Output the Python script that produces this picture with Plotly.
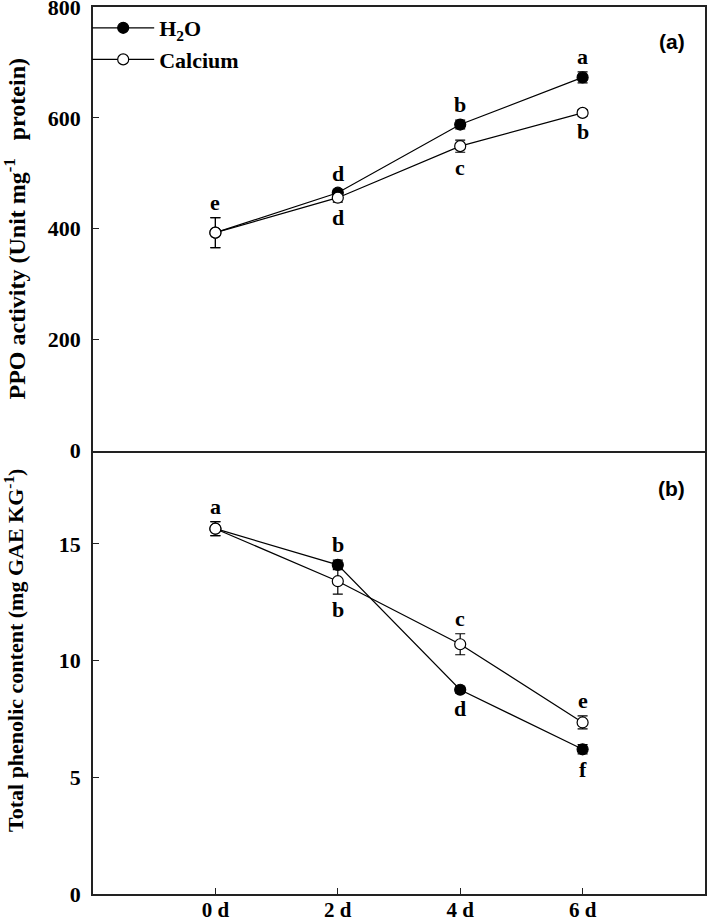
import plotly.graph_objects as go
from plotly.subplots import make_subplots

days = [0, 2, 4, 6]
day_labels = ["0 d", "2 d", "4 d", "6 d"]

# Panel (a): PPO activity
ppo_h2o = [393, 465, 588, 673]
ppo_h2o_err = [27, 6, 8, 10]
ppo_ca = [393, 456, 549, 609]
ppo_ca_err = [27, 8, 11, 6]
ppo_h2o_letters = ["e", "d", "b", "a"]
ppo_ca_letters = ["", "d", "c", "b"]

# Panel (b): total phenolic content
tpc_h2o = [15.65, 14.1, 8.75, 6.2]
tpc_h2o_err = [0.3, 0.2, 0.15, 0.2]
tpc_ca = [15.65, 13.4, 10.7, 7.35]
tpc_ca_err = [0.3, 0.55, 0.45, 0.28]
tpc_h2o_letters = ["a", "b", "d", "f"]
tpc_ca_letters = ["", "b", "c", "e"]
# position of letter: +1 above, -1 below
tpc_h2o_side = [1, 1, -1, -1]
tpc_ca_side = [1, -1, 1, 1]
ppo_h2o_side = [1, 1, 1, 1]
ppo_ca_side = [1, -1, -1, -1]

SERIF = "Liberation Serif, Times New Roman, serif"
SANS = "Liberation Sans, Arial, sans-serif"
LINE = "#222"

fig = make_subplots(rows=2, cols=1, shared_xaxes=True, vertical_spacing=0)

def add_series(row, y, err, name, filled, showlegend):
    fig.add_trace(go.Scatter(
        x=days, y=y, name=name, mode="lines+markers",
        line=dict(color="black", width=1.2),
        marker=dict(size=11, symbol="circle",
                    color="black" if filled else "white",
                    line=dict(color="black", width=1.2)),
        error_y=dict(type="data", array=err, visible=True,
                     color="black", thickness=1.2, width=5),
        showlegend=showlegend, legendgroup=name,
    ), row=row, col=1)

add_series(1, ppo_h2o, ppo_h2o_err, "H<sub>2</sub>O", True, True)
add_series(1, ppo_ca, ppo_ca_err, "Calcium", False, True)
add_series(2, tpc_h2o, tpc_h2o_err, "H<sub>2</sub>O", True, False)
add_series(2, tpc_ca, tpc_ca_err, "Calcium", False, False)

def add_letters(xref, yref, vals, errs, letters, sides):
    for x, v, e, t, s in zip(days, vals, errs, letters, sides):
        if not t:
            continue
        fig.add_annotation(
            x=x, y=v + s * e, xref=xref, yref=yref, text=t, showarrow=False,
            yanchor="bottom" if s > 0 else "top", yshift=1 * s,
            font=dict(family=SERIF, size=22, color="black", weight="bold"))

add_letters("x", "y", ppo_h2o, ppo_h2o_err, ppo_h2o_letters, ppo_h2o_side)
add_letters("x", "y", ppo_ca, ppo_ca_err, ppo_ca_letters, ppo_ca_side)
add_letters("x2", "y2", tpc_h2o, tpc_h2o_err, tpc_h2o_letters, tpc_h2o_side)
add_letters("x2", "y2", tpc_ca, tpc_ca_err, tpc_ca_letters, tpc_ca_side)

fig.add_annotation(x=0.971, y=0.961, xref="paper", yref="paper", text="(a)",
                   showarrow=False, xanchor="right", yanchor="middle",
                   font=dict(family=SANS, size=21, color="black", weight="bold"))
fig.add_annotation(x=0.971, y=0.4577, xref="paper", yref="paper", text="(b)",
                   showarrow=False, xanchor="right", yanchor="middle",
                   font=dict(family=SANS, size=21, color="black", weight="bold"))

tickfont = dict(family=SERIF, size=22, color="black", weight="bold")

fig.update_xaxes(range=[-2, 8], tickvals=days, ticktext=day_labels,
                 showline=True, linecolor=LINE, linewidth=1.6,
                 showgrid=False, zeroline=False, automargin=False)
# top panel: its x line is the divider, mirrored line is the top frame
fig.update_xaxes(ticks="", showticklabels=False, mirror=True, row=1, col=1)
# bottom panel: bottom frame only (divider drawn by top panel)
fig.update_xaxes(ticks="inside", ticklen=6, tickcolor=LINE, tickwidth=1.2,
                 tickfont=dict(family=SERIF, size=21, color="black", weight="bold"),
                 showticklabels=True, mirror=False,
                 ticklabeloverflow="allow", ticklabelstandoff=-4,
                 row=2, col=1)

yaxis_common = dict(showline=True, linecolor=LINE, linewidth=1.6, mirror=True,
                    showgrid=False, zeroline=False, ticks="inside", ticklen=6,
                    tickcolor=LINE, tickwidth=1.2, tickfont=tickfont,
                    ticklabeloverflow="allow", ticklabelstandoff=6,
                    automargin=False)

fig.update_yaxes(range=[0, 800], tickvals=[0, 200, 400, 600, 800],
                 title=dict(text="PPO activity (Unit mg<sup>-1</sup>&nbsp;&nbsp;&nbsp;protein)",
                            font=dict(family=SERIF, size=24, color="black", weight="bold"),
                            standoff=22),
                 row=1, col=1, **yaxis_common)
fig.update_yaxes(range=[0, 19], tickvals=[0, 5, 10, 15],
                 title=dict(text="&nbsp;&nbsp;&nbsp;&nbsp;&nbsp;&nbsp;&nbsp;&nbsp;Total phenolic content (mg GAE KG<sup>-1</sup>)",
                            font=dict(family=SERIF, size=22, color="black", weight="bold"),
                            standoff=30),
                 row=2, col=1, **yaxis_common)

fig.update_layout(
    width=709, height=920,
    margin=dict(l=93, r=4, t=7, b=26),
    plot_bgcolor="white", paper_bgcolor="white",
    legend=dict(x=-0.0095, y=1.0, xanchor="left", yanchor="top",
                bgcolor="rgba(0,0,0,0)", traceorder="grouped", tracegroupgap=0,
                font=dict(family=SERIF, size=22, color="black", weight="bold"),
                itemwidth=62),
    showlegend=True,
)

# remove the browser's default 8 px body margin so the figure fills the window
fig.write_html("out.html",
               config={"displayModeBar": False},
               post_script="document.body.style.margin='0';document.body.style.overflow='hidden';")
